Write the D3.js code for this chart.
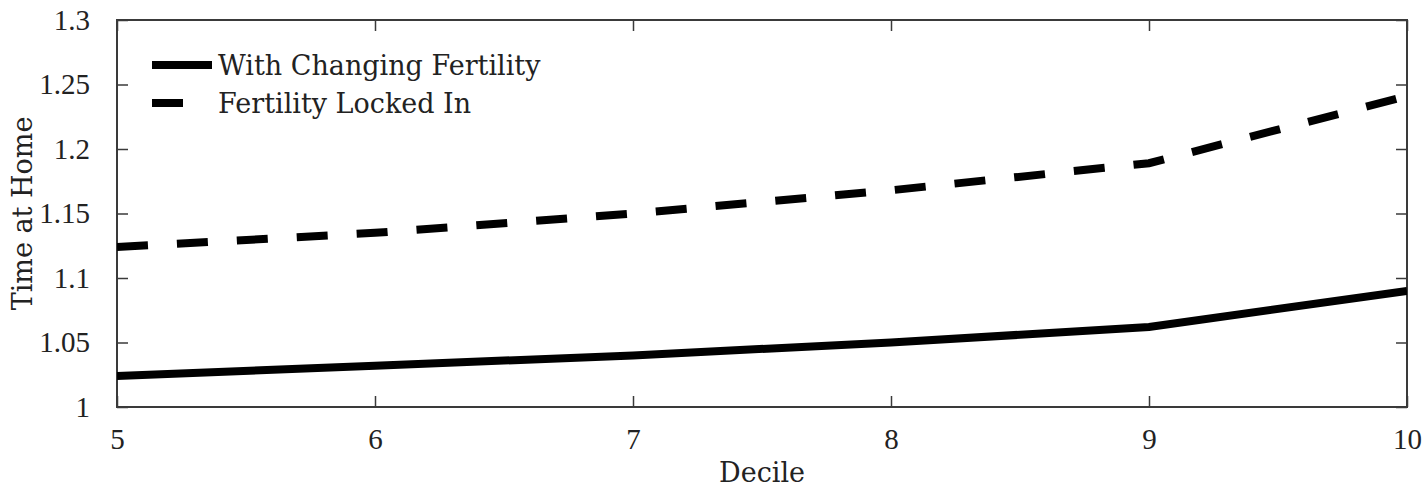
<!DOCTYPE html>
<html><head><meta charset="utf-8">
<script src="https://cdn.jsdelivr.net/npm/d3@7"></script>
<style>
html,body{margin:0;padding:0;background:#fff;}
svg text{font-family:"DejaVu Serif","Liberation Serif",serif;fill:#222;}
svg .tick text{font-family:"Liberation Serif","DejaVu Serif",serif;}
</style></head>
<body><svg id="c" width="1426" height="490"></svg>
<script>
const deciles = [5, 6, 7, 8, 9, 10];
const withChanging = [1.024, 1.032, 1.040, 1.050, 1.062, 1.090];
const lockedIn = [1.124, 1.135, 1.150, 1.168, 1.189, 1.241];
const yTicks = [1, 1.05, 1.1, 1.15, 1.2, 1.25, 1.3];
const xTicks = [5, 6, 7, 8, 9, 10];
const seriesNames = ["With Changing Fertility", "Fertility Locked In"];

const svg = d3.select("#c");
const m = {l:117, r:1407, t:20, b:407};
const x = d3.scaleLinear().domain([5,10]).range([m.l, m.r]);
const y = d3.scaleLinear().domain([1,1.3]).range([m.b, m.t]);
const axisColor = "#3a3a3a";
const fs = 27, tfs = 29;

svg.append("rect").attr("x",m.l).attr("y",m.t).attr("width",m.r-m.l).attr("height",m.b-m.t)
  .attr("fill","none").attr("stroke",axisColor).attr("stroke-width",2);

function styleAxis(g){
  g.select(".domain").remove();
  g.selectAll(".tick line").attr("stroke",axisColor).attr("stroke-width",1.5);
  g.selectAll(".tick text").attr("font-size",tfs).style("fill","#222");
}
const tl = 11;
svg.append("g").attr("transform",`translate(0,${m.b})`)
  .call(d3.axisBottom(x).tickValues(xTicks).tickFormat(d3.format("d")).tickSizeInner(-tl).tickPadding(tl+10))
  .call(styleAxis);
svg.append("g").attr("transform",`translate(0,${m.t})`)
  .call(d3.axisTop(x).tickValues(xTicks).tickFormat("").tickSizeInner(-tl)).call(styleAxis);
svg.append("g").attr("transform",`translate(${m.l},0)`)
  .call(d3.axisLeft(y).tickValues(yTicks).tickFormat(d=>String(+d.toFixed(2))).tickSizeInner(-tl).tickPadding(tl+16))
  .call(styleAxis);
svg.append("g").attr("transform",`translate(${m.r},0)`)
  .call(d3.axisRight(y).tickValues(yTicks).tickFormat("").tickSizeInner(-tl)).call(styleAxis);

const line = d3.line().x((d,i)=>x(deciles[i])).y(d=>y(d));
svg.append("clipPath").attr("id","pc").append("rect")
  .attr("x",m.l).attr("y",m.t).attr("width",m.r-m.l).attr("height",m.b-m.t);
svg.append("path").datum(withChanging).attr("d",line).attr("fill","none")
  .attr("stroke","#000").attr("stroke-width",8).attr("clip-path","url(#pc)");
svg.append("path").datum(lockedIn).attr("d",line).attr("fill","none")
  .attr("stroke","#000").attr("stroke-width",8).attr("stroke-dasharray","31 29").attr("clip-path","url(#pc)");

const lg = svg.append("g");
[0,1].forEach(i=>{
  const ly = 65 + i*38;
  lg.append("line").attr("x1",152).attr("x2",212).attr("y1",ly).attr("y2",ly)
    .attr("stroke","#000").attr("stroke-width",8).attr("stroke-dasharray", i===1?"31 29":null);
  lg.append("text").attr("x",218).attr("y",ly+10).attr("font-size",fs).text(seriesNames[i]);
});

svg.append("text").attr("x",(m.l+m.r)/2).attr("y",482).attr("text-anchor","middle").attr("font-size",fs).text("Decile");
svg.append("text").attr("transform",`translate(32,${(m.t+m.b)/2}) rotate(-90)`).attr("text-anchor","middle").attr("font-size",fs).text("Time at Home");
</script></body></html>
